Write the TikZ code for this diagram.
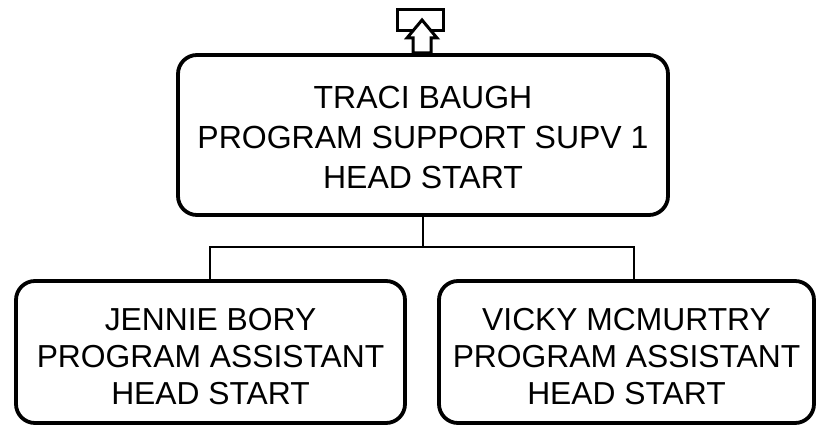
\documentclass[tikz,border=0pt]{standalone}
\usepackage{fontspec}
\setmainfont{Liberation Sans}
\begin{document}
\begin{tikzpicture}[x=1pt,y=-1pt,
  box/.style={draw,line width=3.8pt,rounded corners=19pt},
  conn/.style={draw,line width=1.8pt},
  txt/.style={align=center,font=\fontsize{32}{40}\selectfont,inner sep=0pt},
  ctxt/.style={align=center,font=\fontsize{31.8}{37}\selectfont,inner sep=0pt}]
\useasboundingbox (0,0) rectangle (818,427);
% boxes
\draw[box] (178,55) rectangle (668,215);
\draw[box] (16,281) rectangle (405,423);
\draw[box] (439,281) rectangle (814,423);
\coordinate (top) at (423,215);
\coordinate (lc) at (210,281);
\coordinate (rc) at (634,281);
\node[txt] (t) at (423,137) {TRACI BAUGH\\PROGRAM SUPPORT SUPV 1\\HEAD START};
\node[ctxt] (l) at (210.5,357) {JENNIE BORY\\PROGRAM ASSISTANT\\HEAD START};
\node[ctxt] (r) at (626.5,357) {VICKY MCMURTRY\\PROGRAM ASSISTANT\\HEAD START};
% connectors
\draw[conn] (top) -- (423,247) coordinate (j);
\draw[conn] (lc) |- (j) -| (rc);
% up-arrow icon
\draw[line width=3pt] (397,10) rectangle (443,31);
\draw[line width=3pt,fill=white,line join=miter] (422,20) -- (437,38) -- (431,38) -- (431,53) -- (413,53) -- (413,38) -- (407,38) -- cycle;
\end{tikzpicture}
\end{document}
